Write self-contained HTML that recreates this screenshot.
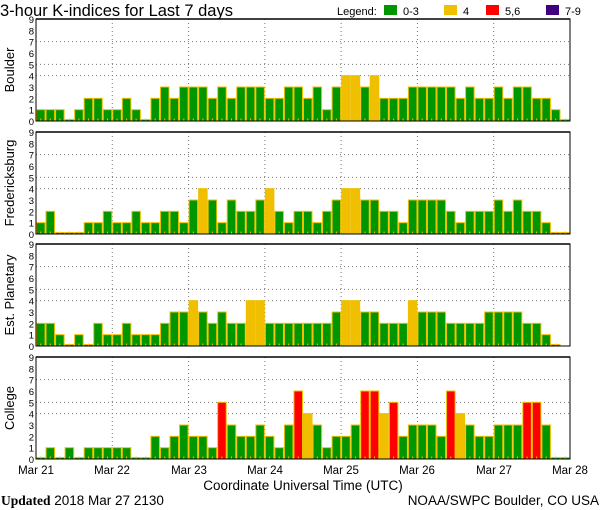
<!DOCTYPE html>
<html><head><meta charset="utf-8"><style>
html,body{margin:0;padding:0;background:#fff;width:600px;height:510px;overflow:hidden}
svg{display:block;font-family:"Liberation Sans",sans-serif}
</style></head><body>
<svg id="s" width="600" height="510" xmlns="http://www.w3.org/2000/svg">
<text x="0" y="16" font-size="16.5" fill="#000">3-hour K-indices for Last 7 days</text>
<text x="337" y="15" font-size="11" fill="#000">Legend:</text>
<rect x="384" y="5" width="13" height="10" fill="#009600"/><text x="403" y="15" font-size="11">0-3</text>
<rect x="444" y="5" width="13" height="10" fill="#f0c000"/><text x="463" y="15" font-size="11">4</text>
<rect x="486" y="5" width="13" height="10" fill="#ff0000"/><text x="505" y="15" font-size="11">5,6</text>
<rect x="546" y="5" width="13" height="10" fill="#400080"/><text x="565" y="15" font-size="11">7-9</text>
<g id="panels"></g>
<g font-size="11.5" text-anchor="middle">
<text x="36" y="474">Mar 21</text><text x="112" y="474">Mar 22</text><text x="189" y="474">Mar 23</text>
<text x="265" y="474">Mar 24</text><text x="341" y="474">Mar 25</text><text x="417" y="474">Mar 26</text>
<text x="494" y="474">Mar 27</text><text x="570" y="474">Mar 28</text>
</g>
<text x="303" y="490" font-size="13.5" text-anchor="middle">Coordinate Universal Time (UTC)</text>
<text x="1" y="505" font-size="13.5"><tspan font-family="Liberation Serif" font-weight="bold">Updated</tspan> 2018 Mar 27 2130</text>
<text x="599" y="505" font-size="13.5" text-anchor="end">NOAA/SWPC Boulder, CO USA</text>
<g font-size="13" text-anchor="middle">
<text transform="translate(14,70) rotate(-90)">Boulder</text>
<text transform="translate(14,183) rotate(-90)">Fredericksburg</text>
<text transform="translate(14,295) rotate(-90)">Est. Planetary</text>
<text transform="translate(14,408) rotate(-90)">College</text>
</g>
<g id="ylab" font-size="9.5" text-anchor="end">
</g>
</svg>
<script>
var D=[
[1,1,1,0,1,2,2,1,1,2,1,0,2,3,2,3,3,3,2,3,2,3,3,3,2,2,3,3, 2,3,1,3,4,4,3,4,2,2,2,3,3,3,3,3,2,3,2,2,3,2,3,3,2,2,1,0],
[1,2,0,0,0,1,1,2,1,1,2,1,1,2,2,1,3,4,3,1,3,2,2,3,4,2,1,2, 2,1,2,3,4,4,3,3,2,2,1,3,3,3,3,2,1,2,2,2,3,2,3,2,2,1,0,0],
[2,2,1,0,1,0,2,1,1,2,1,1,1,2,3,3,4,3,2,3,2,2,4,4,2,2,2,2, 2,2,2,3,4,4,3,3,2,2,2,4,3,3,3,2,2,2,2,3,3,3,3,2,2,1,0,null],
[0,1,0,1,0,1,1,1,1,1,0,0,2,1,2,3,2,2,1,5,3,2,2,3,2,1,3,6, 4,3,1,2,2,3,6,6,4,5,2,3,3,3,2,6,4,3,2,2,3,3,3,5,5,3,0,0]];
var tops=[19,132,244,357],H=102,L=36,R=570,W=(R-L)/56,u=H/9;
var ns="http://www.w3.org/2000/svg",g=document.getElementById('panels'),yl=document.getElementById('ylab');
function el(t,a,p){var e=document.createElementNS(ns,t);for(var k in a)e.setAttribute(k,a[k]);(p||g).appendChild(e);return e;}
function col(v){return v<=3?'#009600':v==4?'#f0c000':v<=6?'#ff0000':'#400080';}
for(var p=0;p<4;p++){
 var t=tops[p],b=t+H;
 [4,5,7].forEach(function(v){el('line',{x1:L,x2:R,y1:b-v*u,y2:b-v*u,stroke:'#777','stroke-dasharray':'1,3'});});
 for(var d=1;d<7;d++){var x=L+d*(R-L)/7;el('line',{x1:x,x2:x,y1:t,y2:b,stroke:'#777','stroke-dasharray':'1,3'});}
 for(var i=0;i<56;i++){var v=D[p][i];if(v===null)continue;var h=v==0?1.5:v*u;
  el('rect',{x:L+i*W+0.5,y:b-h,width:W-1,height:h,fill:col(v),stroke:'#f0c000','stroke-width':1});
  el('line',{x1:L+i*W+W/2,x2:L+i*W+W/2,y1:b-2.5,y2:b,stroke:'#f0c000'});}
 el('rect',{x:L,y:t,width:R-L,height:H,fill:'none',stroke:'#000','stroke-width':1});
 el('line',{x1:L,x2:R,y1:t,y2:t,stroke:'#000','stroke-width':1.5});
 for(var v=0;v<=9;v++){var tx=el('text',{x:34,y:b-v*u+4},yl);tx.textContent=v;}
}
</script>
</body></html>
